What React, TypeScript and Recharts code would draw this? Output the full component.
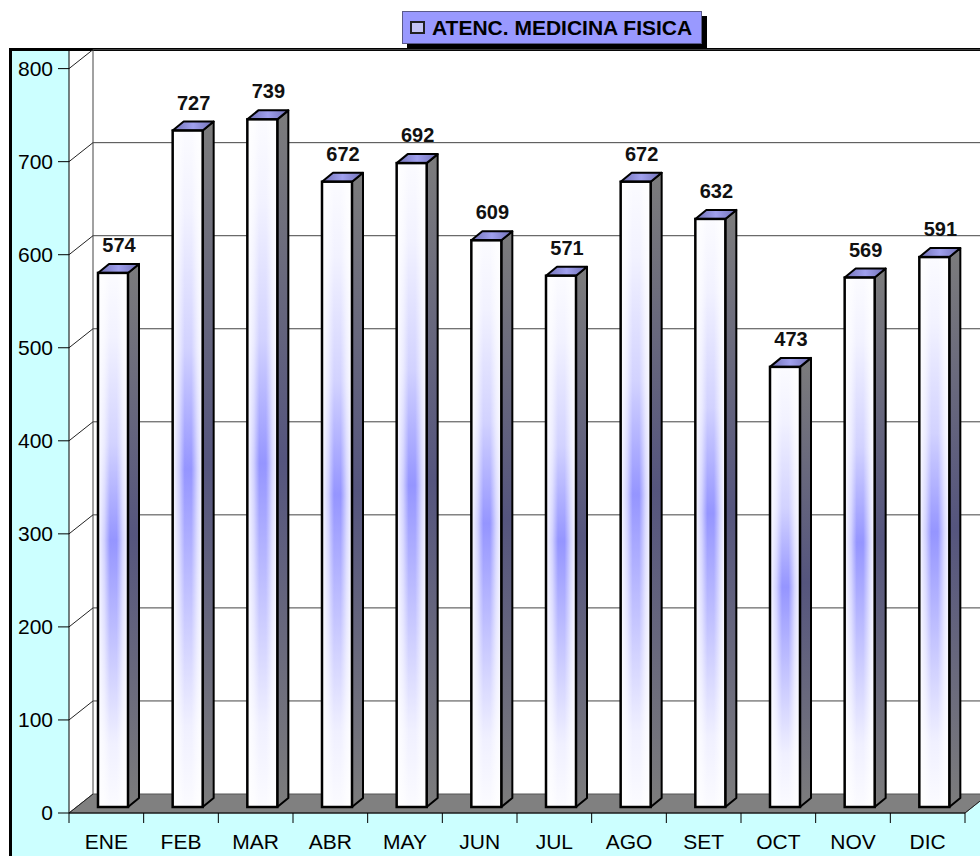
import React from "react";
import {
  Bar,
  BarChart,
  CartesianGrid,
  LabelList,
  Legend,
  XAxis,
  YAxis,
} from "recharts";

const MONTHS = ["ENE", "FEB", "MAR", "ABR", "MAY", "JUN", "JUL", "AGO", "SET", "OCT", "NOV", "DIC"];
const ATENCIONES = [574, 727, 739, 672, 692, 609, 571, 672, 632, 473, 569, 591];
const Y_TICKS = [0, 100, 200, 300, 400, 500, 600, 700, 800];
const SERIES_NAME = "ATENC. MEDICINA FISICA";

const data = MONTHS.map((mes, i) => ({ mes, atenciones: ATENCIONES[i] }));

const FONT = "'Liberation Sans', Arial, sans-serif";
const W = 980;
const H = 856;
const PLOT_TOP = 50;
const PLOT_BOTTOM = 813;
const WALL_DX = 24; // depth of the 3d box
const WALL_DY = 19;
const BAR_DX = 11; // depth of each bar
const BAR_DY = 9;
const BAR_SHIFT_X = 7; // bars sit a bit behind the front plane
const BAR_SHIFT_Y = 6;

// grid: back wall line + diagonal on the left wall, floor on the 0 line
const gridLine = (p: any) => {
  const { x1, x2, y1 } = p;
  const by = y1 - WALL_DY;
  const isFloor = Math.abs(y1 - PLOT_BOTTOM) < 1;
  if (isFloor) {
    return (
      <g key={p.key ?? "floor"}>
        <line x1={x1 + WALL_DX} y1={PLOT_TOP} x2={x1 + WALL_DX} y2={by} stroke="#444" />
        <polygon
          points={`${x1},${y1} ${x1 + WALL_DX},${by} ${x2 + WALL_DX},${by} ${x2},${y1}`}
          fill="#808080"
          stroke="#555"
        />
        <polygon points={`${x2},${y1 + 1} ${x2 + WALL_DX},${by} ${x2 + WALL_DX},${y1 + 1}`} fill="#ccffff" />
        <line x1={x2} y1={y1} x2={x2 + WALL_DX} y2={by} stroke="#222" />
        <line x1={x1} y1={y1} x2={x1 + WALL_DX} y2={by} stroke="#222" />
      </g>
    );
  }
  return (
    <g key={p.key ?? y1}>
      <line x1={x1 + WALL_DX} y1={by} x2={x2 + WALL_DX + 20} y2={by} stroke="#444" />
      <line x1={x1} y1={y1} x2={x1 + WALL_DX} y2={by} stroke="#222" />
    </g>
  );
};

const Bar3D = (p: any) => {
  const { x, y, width, height } = p;
  if (!height || height <= 0) return null;
  const fx = x + BAR_SHIFT_X;
  const top = y - BAR_SHIFT_Y;
  const bot = y + height - BAR_SHIFT_Y;
  const w = width;
  return (
    <g>
      <polygon
        points={`${fx + w},${top} ${fx + w + BAR_DX},${top - BAR_DY} ${fx + w + BAR_DX},${bot - BAR_DY} ${fx + w},${bot}`}
        fill="url(#sideGrad)"
        stroke="#000"
        strokeWidth={2}
        strokeLinejoin="round"
      />
      <polygon
        points={`${fx},${top} ${fx + BAR_DX},${top - BAR_DY} ${fx + w + BAR_DX},${top - BAR_DY} ${fx + w},${top}`}
        fill="url(#topGrad)"
        stroke="#000"
        strokeWidth={2}
        strokeLinejoin="round"
      />
      <rect x={fx} y={top} width={w} height={bot - top} fill="url(#frontV)" />
      <rect x={fx} y={top} width={w} height={bot - top} fill="url(#frontH)" />
      <rect x={fx} y={top} width={w} height={bot - top} fill="none" stroke="#000" strokeWidth={2.5} />
    </g>
  );
};

const renderValue = (p: any) => {
  const vb = p.viewBox ?? {};
  const x = p.x ?? vb.x;
  const y = p.y ?? vb.y;
  const width = p.width ?? vb.width;
  return (
    <text
      key={p.index}
      x={x + width / 2 + BAR_SHIFT_X + 6}
      y={y - BAR_SHIFT_Y - 21}
      textAnchor="middle"
      fontSize={20}
      fontWeight="bold"
      fontFamily={FONT}
      fill="#111"
    >
      {p.value}
    </text>
  );
};

const XTick = (p: any) => {
  const { x, y, payload } = p;
  const half = payload.offset || 37.3;
  return (
    <g>
      <line x1={x - half} y1={PLOT_BOTTOM} x2={x - half} y2={PLOT_BOTTOM + 10} stroke="#000" />
      {payload.index === MONTHS.length - 1 && (
        <line x1={x + half} y1={PLOT_BOTTOM} x2={x + half} y2={PLOT_BOTTOM + 10} stroke="#000" />
      )}
      <text x={x} y={y + 36} textAnchor="middle" fontSize={21} fontFamily={FONT} fill="#000">
        {payload.value}
      </text>
    </g>
  );
};

const TitleBox = (p: any) => {
  const label = p.payload?.[0]?.value ?? SERIES_NAME;
  return (
    <div
      style={{
        width: 300,
        height: 33,
        boxSizing: "border-box",
        background: "#9999ff",
        border: "1px solid #5a5a8a",
        boxShadow: "5px 5px 0 #000",
        display: "flex",
        alignItems: "center",
        paddingLeft: 7,
        fontFamily: FONT,
        fontWeight: "bold",
        fontSize: 21,
        color: "#000",
        whiteSpace: "nowrap",
      }}
    >
      <span
        style={{
          display: "inline-block",
          width: 15,
          height: 13,
          boxSizing: "border-box",
          border: "2px solid #222",
          background: "#c4c4f4",
          marginRight: 7,
        }}
      />
      {label}
    </div>
  );
};

const App = () => {
  return (
    <div style={{ position: "absolute", left: 0, top: 0, width: W, height: H, overflow: "hidden", background: "#fff", fontFamily: FONT }}>
      <svg width={0} height={0} style={{ position: "absolute" }}>
        <defs>
          <linearGradient id="frontV" x1="0" y1="0" x2="0" y2="1">
            <stop offset="0%" stopColor="#fbfbff" />
            <stop offset="12%" stopColor="#f2f2ff" />
            <stop offset="32%" stopColor="#d2d2ff" />
            <stop offset="50%" stopColor="#9595ff" />
            <stop offset="68%" stopColor="#c0c0ff" />
            <stop offset="88%" stopColor="#f0f0ff" />
            <stop offset="100%" stopColor="#fbfbff" />
          </linearGradient>
          <linearGradient id="frontH" x1="0" y1="0" x2="1" y2="0">
            <stop offset="0%" stopColor="#ffffff" stopOpacity={0.95} />
            <stop offset="22%" stopColor="#ffffff" stopOpacity={0.55} />
            <stop offset="40%" stopColor="#ffffff" stopOpacity={0} />
            <stop offset="62%" stopColor="#ffffff" stopOpacity={0} />
            <stop offset="82%" stopColor="#ffffff" stopOpacity={0.6} />
            <stop offset="100%" stopColor="#ffffff" stopOpacity={0.95} />
          </linearGradient>
          <linearGradient id="sideGrad" x1="0" y1="0" x2="0" y2="1">
            <stop offset="0%" stopColor="#7c7c7c" />
            <stop offset="50%" stopColor="#55557e" />
            <stop offset="100%" stopColor="#7c7c7c" />
          </linearGradient>
          <linearGradient id="topGrad" x1="0" y1="0" x2="1" y2="0">
            <stop offset="0%" stopColor="#7070b4" />
            <stop offset="50%" stopColor="#a0a0ee" />
            <stop offset="100%" stopColor="#7070b4" />
          </linearGradient>
        </defs>
      </svg>
      <div
        style={{
          position: "absolute",
          left: 9,
          top: 48,
          width: 1000,
          height: 900,
          background: "#ccffff",
          borderLeft: "3px solid #000",
          borderTop: "3px solid #000",
        }}
      />
      <div style={{ position: "absolute", left: 69, top: 51, width: 940, height: PLOT_BOTTOM - 51, background: "#fff" }} />
      <div style={{ position: "absolute", left: 0, top: 0 }}>
        <BarChart
          width={W}
          height={H}
          data={data}
          margin={{ top: PLOT_TOP, right: 15, bottom: 0, left: 9 }}
          barSize={30}
          style={{ fontFamily: FONT }}
        >
          <CartesianGrid vertical={false} horizontal={gridLine} syncWithTicks={true} fill="none" />
          <XAxis
            dataKey="mes"
            height={H - PLOT_BOTTOM}
            tickLine={false}
            tickSize={0}
            tickMargin={0}
            axisLine={{ stroke: "#000" }}
            tick={XTick}
            interval={0}
          />
          <YAxis
            width={60}
            domain={[0, 820]}
            ticks={Y_TICKS}
            interval={0}
            tickSize={11}
            tickMargin={5}
            tickLine={{ stroke: "#000" }}
            axisLine={{ stroke: "#000" }}
            tick={{ fontSize: 21, fill: "#000", fontFamily: FONT }}
          />
          <Legend
            layout="horizontal"
            verticalAlign="middle"
            align="center"
            content={TitleBox}
            wrapperStyle={{ left: 402, top: 11, width: "auto", height: 33 }}
          />
          <Bar
            dataKey="atenciones"
            name={SERIES_NAME}
            shape={Bar3D}
            isAnimationActive={false}
            fill="#9999ff"
          >
            <LabelList dataKey="atenciones" content={renderValue} />
          </Bar>
        </BarChart>
      </div>
    </div>
  );
};

export default App;
